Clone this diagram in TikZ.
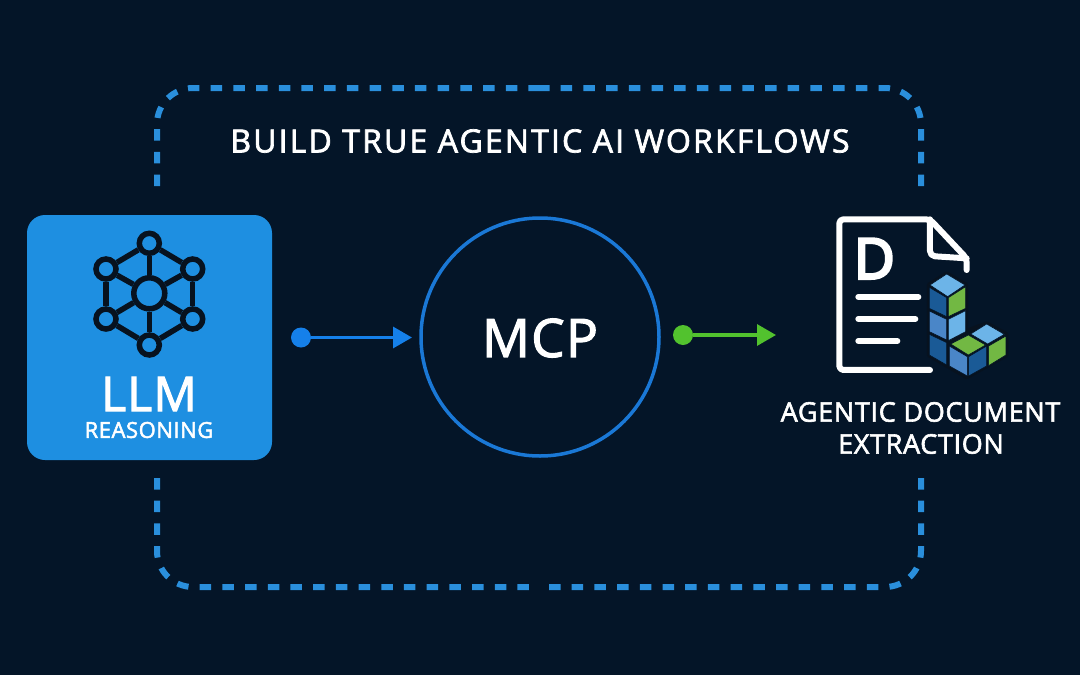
\documentclass[tikz,border=0pt]{standalone}
\usepackage{fontspec}
\setmainfont{Open Sans}[FakeBold=2.2]
\usetikzlibrary{arrows.meta}
\definecolor{bgc}{HTML}{041528}
\definecolor{boxblue}{HTML}{1E8FE1}
\definecolor{dashblue}{HTML}{2A8FDC}
\definecolor{ringblue}{HTML}{1A78D6}
\definecolor{arrowblue}{HTML}{1580EA}
\definecolor{arrowgreen}{HTML}{52C22E}
\definecolor{ink}{HTML}{07121F}
\definecolor{cubel}{HTML}{6CB4E8}
\definecolor{cubem}{HTML}{4A86C8}
\definecolor{cubed}{HTML}{1A5A96}
\definecolor{cubeg}{HTML}{72B843}
\tikzset{
  x=1pt,y=-1pt,
  label text/.style={text=white,inner sep=0pt,align=center},
  dash frame/.style={draw=dashblue,line width=6pt,dash pattern=on 11.5pt off 11.2pt},
  netlink/.style={draw=ink,line width=5.5pt},
  netnode/.style={circle,draw=ink,line width=5.5pt,fill=boxblue,inner sep=0pt,minimum size=20pt},
  netcentre/.style={circle,draw=ink,line width=5.5pt,fill=boxblue,inner sep=0pt,minimum size=31pt},
  flowdot/.style={circle,inner sep=0pt,minimum size=20pt},
  flow/.style={line width=3.2pt,-{Triangle[length=19pt,width=21pt]}},
  docline/.style={draw=white,line width=6pt,line cap=round,line join=round,rounded corners=3pt},
  face/.style={line width=0.6pt,draw=bgc,line join=round},
}
\newfontfamily\titlefont{Open Sans}[FakeBold=2.2,LetterSpace=6.7]
\newfontfamily\mainsp{Open Sans}[FakeBold=2.2,LetterSpace=2.5]
\newfontfamily\dfont{Open Sans}[FakeBold=5]
\begin{document}
\begin{tikzpicture}
\useasboundingbox (0,0) rectangle (1080,675);
\fill[bgc] (0,0) rectangle (1080,675);
% dashed frame
\coordinate (fa) at (157,186);
\coordinate (fb) at (921,186);
\coordinate (fc) at (157,478);
\coordinate (fd) at (921,478);
\coordinate (ft) at (539,88);
\coordinate (fm) at (539,587);
\draw[dash frame,rounded corners=36pt] (fa) -- (157,88) -- (ft);
\draw[dash frame,rounded corners=36pt] (fb) -- (921,88) -- (ft);
\draw[dash frame,rounded corners=36pt] (fc) -- (157,587) -- (fm);
\draw[dash frame,rounded corners=36pt] (fd) -- (921,587) -- (fm);
\node[label text,font=\titlefont\fontsize{32}{36}\selectfont] (title) at (540,141) {BUILD TRUE AGENTIC AI WORKFLOWS};
% LLM box
\node[fill=boxblue,rounded corners=18pt,minimum width=245pt,minimum height=245pt,inner sep=0pt] (llmbox) at (149.5,337.5) {};
\node[netnode] (n1) at (149.3,243.3) {};
\node[netnode] (n2) at (192.7,269) {};
\node[netnode] (n3) at (192.7,319) {};
\node[netnode] (n4) at (149.3,345) {};
\node[netnode] (n5) at (106,319) {};
\node[netnode] (n6) at (106,269) {};
\node[netcentre] (nc) at (149.3,293.3) {};
\foreach \a/\b in {n1/n2,n2/n3,n3/n4,n4/n5,n5/n6,n6/n1,nc/n1,nc/n2,nc/n3,nc/n4,nc/n5,nc/n6}
  \draw[netlink] (\a) -- (\b);
\node[label text,font=\mainsp\fontsize{48}{48}\selectfont] (llm) at (149,394) {LLM};
\node[label text,font=\mainsp\fontsize{22}{22}\selectfont] (reasoning) at (149,430) {REASONING};
% MCP
\node[circle,draw=ringblue,line width=3.5pt,minimum size=238pt,inner sep=0pt] (mcp) at (540,337) {};
\node[label text,font=\mainsp\fontsize{53}{54}\selectfont] (mcplabel) at (540,338) {MCP};
% arrows
\node[flowdot,fill=arrowblue] (bd) at (301,337.5) {};
\coordinate (bt) at (412,337.5);
\draw[flow,draw=arrowblue,fill=arrowblue] (bd) -- (bt);
\node[flowdot,fill=arrowgreen] (gd) at (683,335) {};
\coordinate (gt) at (776,335);
\draw[flow,draw=arrowgreen,fill=arrowgreen] (gd) -- (gt);
% document icon
\begin{scope}[shift={(820,200)},x=0.3333pt,y=-0.3333pt]
\draw[docline,rounded corners=4pt] (330,510) -- (58,510) -- (58,58) -- (330,58) -- (440,175) -- (440,210);
\draw[docline,rounded corners=5pt] (330,58) -- (330,168) -- (440,175);
\draw[docline] (115,291) -- (295,291);
\draw[docline] (115,357) -- (286,357);
\draw[docline] (115,423) -- (232,423);
\node[label text,font=\dfont\fontsize{56}{58}\selectfont] (dletter) at (163,176) {D};
% cubes
\fill[ink,draw=ink,line width=5pt,line join=round] (380,222) -- (437,255) -- (437,395) -- (500,372) -- (558,403) -- (558,465) -- (440,530) -- (328,465) -- (328,255) -- cycle;
\fill[cubel,face] (380,222) -- (435,255) -- (383,290) -- (330,255) -- cycle;
\fill[cubed,face] (328,262) -- (380,293) -- (380,350) -- (328,325) -- cycle;
\fill[cubeg,face] (385,293) -- (437,260) -- (437,325) -- (385,350) -- cycle;
\fill[cubem,face] (328,333) -- (380,358) -- (380,420) -- (328,395) -- cycle;
\fill[cubel,face] (385,358) -- (437,332) -- (437,395) -- (385,422) -- cycle;
\fill[cubed,face] (328,403) -- (380,428) -- (380,495) -- (328,465) -- cycle;
\fill[cubel,face] (500,372) -- (553,403) -- (503,432) -- (452,402) -- cycle;
\fill[cubeg,face] (506,438) -- (558,408) -- (558,465) -- (506,497) -- cycle;
\fill[cubeg,face] (445,405) -- (497,435) -- (445,465) -- (392,432) -- cycle;
\fill[cubem,face] (388,438) -- (442,470) -- (442,528) -- (388,498) -- cycle;
\fill[cubed,face] (446,470) -- (500,438) -- (500,498) -- (446,528) -- cycle;
\end{scope}
\node[label text,font=\mainsp\fontsize{27}{32}\selectfont] (ade1) at (920.5,412) {AGENTIC DOCUMENT};
\node[label text,font=\mainsp\fontsize{27}{32}\selectfont] (ade2) at (921,444) {EXTRACTION};
\end{tikzpicture}
\end{document}
